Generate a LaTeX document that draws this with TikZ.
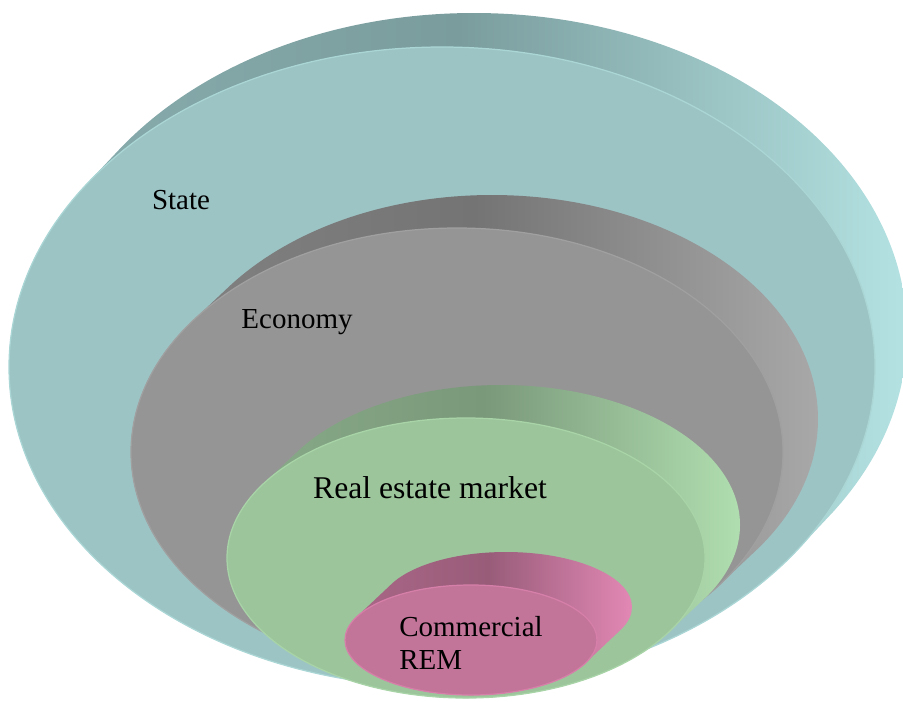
\documentclass[tikz,border=0pt]{standalone}
\usepackage{fontspec}
\setmainfont{Liberation Serif}
\usepackage{tikz}
\usetikzlibrary{calc}
\definecolor{statefront}{RGB}{157,196,197}
\definecolor{stateside}{RGB}{122,156,157}
\definecolor{statelight}{RGB}{180,226,226}
\definecolor{ecofront}{RGB}{149,149,149}
\definecolor{ecoside}{RGB}{116,116,116}
\definecolor{ecolight}{RGB}{168,168,168}
\definecolor{marketfront}{RGB}{156,197,156}
\definecolor{marketside}{RGB}{122,152,122}
\definecolor{marketlight}{RGB}{176,222,176}
\definecolor{remfront}{RGB}{195,116,153}
\definecolor{remside}{RGB}{152,92,121}
\definecolor{remlight}{RGB}{226,136,180}

\begin{document}
\begin{tikzpicture}[x=0.02cm,y=-0.02cm,
  disctext/.style={font=\fontsize{16.5}{19}\selectfont,inner sep=0pt}]
\useasboundingbox (0,0) rectangle (903,701);

\foreach \cx/\cy/\rx/\ry/\dx/\dy/\front/\side/\light in {442/367/433/320/32/-34/statefront/stateside/statelight,457/452/326/224/35/-33/ecofront/ecoside/ecolight,466/558/239/140/35/-33/marketfront/marketside/marketlight,471/640/126/55/35/-33/remfront/remside/remlight}
{
  \shade[left color=\side!55!\front, right color=\light, middle color=\side]
    \foreach \k in {0,...,25} {({\cx+\k*\dx/25},{\cy+\k*\dy/25}) ellipse ({\rx} and {\ry})};
  \draw[fill=\front, draw=\light!60!\front, line width=0.7pt] (\cx,\cy) ellipse ({\rx} and {\ry});
}

\node[disctext] (state) at (181,200) {State};
\node[disctext] (economy) at (297,322) {Economy};
\node[disctext, font=\fontsize{18}{21}\selectfont] (market) at (430,488) {Real estate market};
\node[disctext, align=left, anchor=west] (rem) at (399,643) {Commercial\\REM};

\end{tikzpicture}
\end{document}
